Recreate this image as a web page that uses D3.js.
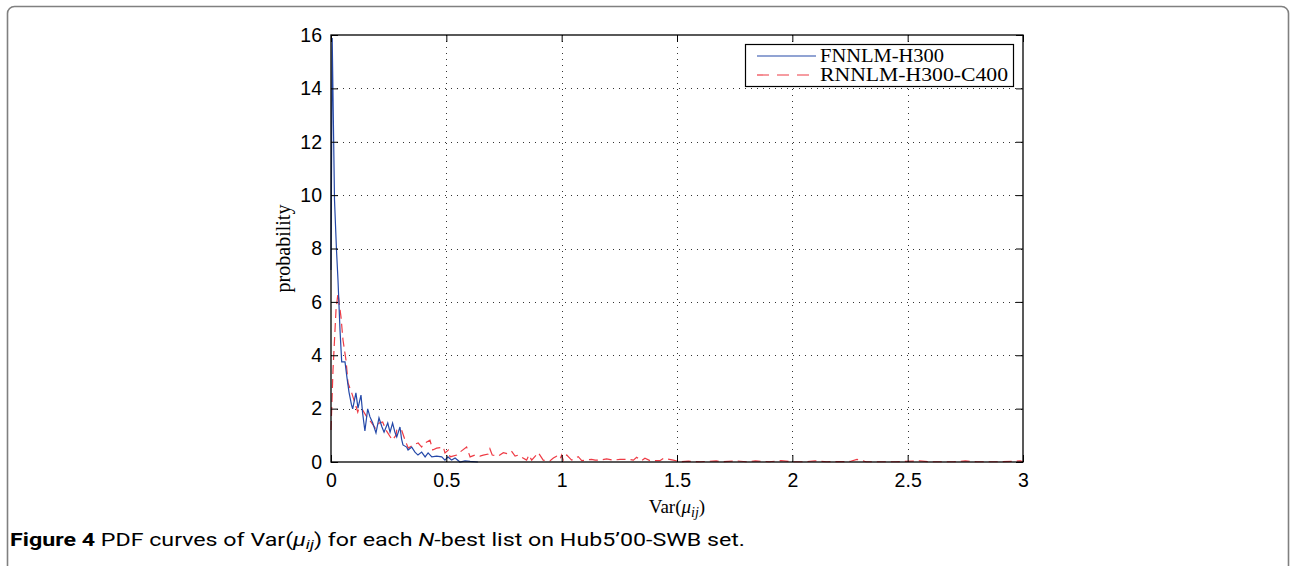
<!DOCTYPE html>
<html>
<head>
<meta charset="utf-8">
<script src="https://cdn.jsdelivr.net/npm/d3@7"></script>
<style>
  body { margin: 0; background: #fff; }
</style>
</head>
<body>
<svg id="chart"></svg>
<script>
// series values: [Var(mu_ij), probability]
var fnnlmPoints = [
  [0, 7.19], [0.0052, 15.89], [0.0152, 9.82], [0.0238, 7.94], [0.0303, 6.82], [0.039, 4.95],
  [0.0464, 3.75], [0.0607, 3.75], [0.0694, 3.15], [0.078, 2.62], [0.0889, 2.14], [0.094, 1.99],
  [0.108, 2.59], [0.117, 2.02], [0.13, 2.51], [0.137, 1.84], [0.147, 1.16], [0.159, 1.99],
  [0.169, 1.69], [0.181, 1.46], [0.195, 1.09], [0.208, 1.65], [0.221, 1.31], [0.23, 1.12],
  [0.246, 1.46], [0.256, 1.12], [0.267, 1.46], [0.277, 1.12], [0.285, 0.94], [0.299, 1.31],
  [0.306, 0.86], [0.312, 0.64], [0.328, 0.56], [0.334, 0.45], [0.35, 0.56], [0.364, 0.37],
  [0.377, 0.26], [0.393, 0.37], [0.408, 0.19], [0.421, 0.34], [0.437, 0.19], [0.458, 0.22],
  [0.48, 0.19], [0.494, 0.07], [0.507, 0.19], [0.523, 0.07], [0.538, 0.15], [0.559, 0],
  [0.581, 0.04], [0.603, 0.02], [0.637, 0]
];
var rnnlmPoints = [
  [0, 1.2], [0.0087, 3.45], [0.0217, 5.69], [0.0303, 6.33], [0.0434, 5.43], [0.052, 4.57],
  [0.065, 3.82], [0.0737, 2.96], [0.0897, 2.59], [0.0997, 2.32], [0.116, 1.87], [0.121, 2.02],
  [0.137, 1.95], [0.155, 1.69], [0.173, 1.5], [0.192, 1.27], [0.209, 1.46], [0.224, 1.5],
  [0.238, 1.2], [0.26, 0.9], [0.267, 0.82], [0.282, 1.01], [0.285, 1.2], [0.306, 1.2],
  [0.321, 0.82], [0.335, 0.52], [0.35, 0.6], [0.364, 0.67], [0.378, 0.71], [0.393, 0.56],
  [0.4, 0.67], [0.429, 0.82], [0.441, 0.45], [0.458, 0.52], [0.487, 0.56], [0.494, 0.34],
  [0.509, 0.45], [0.516, 0.19], [0.545, 0.26], [0.559, 0.37], [0.588, 0.56], [0.603, 0.19],
  [0.624, 0.26], [0.646, 0.22], [0.66, 0.26], [0.682, 0.3], [0.689, 0.49], [0.699, 0.26],
  [0.725, 0.22], [0.747, 0.35], [0.769, 0.3], [0.784, 0.39], [0.798, 0.22], [0.812, 0.26],
  [0.848, 0.07], [0.858, 0.26], [0.87, 0.07], [0.899, 0.35], [0.92, 0.07], [0.949, 0.04],
  [0.964, 0.15], [0.978, 0.22], [0.993, 0.11], [1.0, 0.26], [1.007, 0.07], [1.022, 0.26],
  [1.043, 0.07], [1.072, 0.2], [1.087, 0.05], [1.13, 0.1], [1.145, 0.07], [1.166, 0.07],
  [1.195, 0.12], [1.224, 0.07], [1.253, 0.1], [1.289, 0.1], [1.311, 0.07], [1.325, 0.18],
  [1.347, 0.05], [1.361, 0.14], [1.383, 0.05], [1.426, 0.05], [1.441, 0.14], [1.484, 0.07],
  [1.513, 0.01], [1.55, 0.03], [1.6, 0.01], [1.67, 0.04], [1.7, 0.01], [1.76, 0.04],
  [1.8, 0.01], [1.84, 0.04], [1.9, 0.01], [1.95, 0.05], [2.0, 0.01], [2.05, 0.01],
  [2.1, 0.04], [2.15, 0.01], [2.25, 0.02], [2.28, 0.1], [2.32, 0.01], [2.45, 0.01],
  [2.55, 0.04], [2.6, 0.01], [2.7, 0.01], [2.75, 0.04], [2.8, 0.01], [2.9, 0.01],
  [2.99, 0.04], [3.0, 0]
];
var seriesNames = ["FNNLM-H300", "RNNLM-H300-C400"];
var xTicks = [0, 0.5, 1, 1.5, 2, 2.5, 3];
var yTicks = [0, 2, 4, 6, 8, 10, 12, 14, 16];

var dimensions = {
  width: 1294,
  height: 566,
  margin: { top: 35, bottom: 104, left: 331, right: 271 },
};

var svg = d3
  .select("#chart")
  .attr("width", dimensions.width)
  .attr("height", dimensions.height);

// page frame
svg
  .append("rect")
  .attr("x", 7.5)
  .attr("y", 6.5)
  .attr("width", 1281)
  .attr("height", 620)
  .attr("rx", 7)
  .attr("fill", "none")
  .attr("stroke", "#808080")
  .attr("stroke-width", 1.6);

var x0 = dimensions.margin.left;
var x1 = dimensions.width - dimensions.margin.right;
var y0 = dimensions.height - dimensions.margin.bottom;
var y1 = dimensions.margin.top;

var xScale = d3.scaleLinear().domain([0, 3]).range([x0, x1]);
var yScale = d3.scaleLinear().domain([0, 16]).range([y0, y1]);

// dotted grid
var grid = svg.append("g").attr("stroke", "#333").attr("stroke-width", 1).attr("stroke-dasharray", "1,5");
grid
  .selectAll(".gx")
  .data(xTicks.slice(1, -1))
  .enter()
  .append("line")
  .attr("x1", (d) => Math.round(xScale(d)) + 0.5)
  .attr("x2", (d) => Math.round(xScale(d)) + 0.5)
  .attr("y1", y0)
  .attr("y2", y1);
grid
  .selectAll(".gy")
  .data(yTicks.slice(1, -1))
  .enter()
  .append("line")
  .attr("x1", x0)
  .attr("x2", x1)
  .attr("y1", (d) => Math.round(yScale(d)) + 0.5)
  .attr("y2", (d) => Math.round(yScale(d)) + 0.5);

// curves
var line = d3
  .line()
  .x((d) => xScale(d[0]))
  .y((d) => yScale(d[1]));

svg
  .append("path")
  .datum(rnnlmPoints)
  .attr("d", line)
  .attr("fill", "none")
  .attr("stroke", "#ee3b45")
  .attr("stroke-width", 1.2)
  .attr("stroke-dasharray", "9,5");

svg
  .append("path")
  .datum(fnnlmPoints)
  .attr("d", line)
  .attr("fill", "none")
  .attr("stroke", "#2448a8")
  .attr("stroke-width", 1.2);

// axes, ticks pointing inward
var xAxisgen = d3.axisBottom(xScale).tickValues(xTicks).tickSize(-7).tickPadding(10).tickFormat(d3.format("~g"));
var yAxisgen = d3.axisLeft(yScale).tickValues(yTicks).tickSize(-7).tickPadding(9);

var xAxis = svg.append("g").attr("transform", `translate(0,${y0})`).call(xAxisgen);
var yAxis = svg.append("g").attr("transform", `translate(${x0},0)`).call(yAxisgen);
var topAxis = svg
  .append("g")
  .attr("transform", `translate(0,${y1})`)
  .call(d3.axisTop(xScale).tickValues(xTicks).tickSize(-7).tickFormat(""));
var rightAxis = svg
  .append("g")
  .attr("transform", `translate(${x1},0)`)
  .call(d3.axisRight(yScale).tickValues(yTicks).tickSize(-7).tickFormat(""));

[xAxis, yAxis, topAxis, rightAxis].forEach(function (g) {
  g.attr("font-family", '"Liberation Sans", Arial, sans-serif').attr("font-size", 19.5);
  g.select(".domain").remove();
  g.selectAll(".tick line").attr("stroke", "#000");
  g.selectAll(".tick text").attr("fill", "#000");
});
xAxis.selectAll(".tick text").attr("dy", "0.78em");

svg
  .append("rect")
  .attr("x", x0)
  .attr("y", y1)
  .attr("width", x1 - x0)
  .attr("height", y0 - y1)
  .attr("fill", "none")
  .attr("stroke", "#000")
  .attr("stroke-width", 1.3);

// axis labels
var serif = '"Liberation Serif", "Times New Roman", serif';
var xLabel = svg
  .append("text")
  .attr("x", xScale(1.5))
  .attr("y", 513)
  .attr("text-anchor", "middle")
  .attr("font-family", serif)
  .attr("font-size", 19);
xLabel.append("tspan").text("Var(");
xLabel.append("tspan").attr("font-style", "italic").text("μ");
xLabel.append("tspan").attr("font-style", "italic").attr("font-size", 14).attr("dy", 4).text("ij");
xLabel.append("tspan").attr("dy", -4).text(")");

svg
  .append("text")
  .attr("transform", `translate(290,${(y0 + y1) / 2}) rotate(-90)`)
  .attr("text-anchor", "middle")
  .attr("font-family", serif)
  .attr("font-size", 20)
  .text("probability");

// legend
var legend = svg.append("g");
legend
  .append("rect")
  .attr("x", 745.5)
  .attr("y", 44.5)
  .attr("width", 268)
  .attr("height", 42)
  .attr("fill", "#fff")
  .attr("stroke", "#000")
  .attr("stroke-width", 1.2);
var legendColors = ["#2448a8", "#ee3b45"];
var legendDash = [null, "12,8"];
seriesNames.forEach(function (name, i) {
  var ly = 56 + i * 19;
  legend
    .append("line")
    .attr("x1", 757)
    .attr("x2", 816)
    .attr("y1", ly)
    .attr("y2", ly)
    .attr("stroke", legendColors[i])
    .attr("stroke-width", 1.2)
    .attr("stroke-dasharray", legendDash[i]);
  legend
    .append("text")
    .attr("x", 820)
    .attr("y", ly + 6)
    .attr("font-family", serif)
    .attr("font-size", 18.5)
    .attr("textLength", i === 0 ? 124 : 188)
    .attr("lengthAdjust", "spacingAndGlyphs")
    .text(name);
});

// caption
var caption = svg
  .append("text")
  .attr("x", 10)
  .attr("y", 546)
  .attr("font-family", 'Roboto, "Noto Sans", sans-serif')
  .attr("font-size", 17.5)
  .attr("textLength", 735)
  .attr("lengthAdjust", "spacingAndGlyphs");
caption.append("tspan").attr("font-weight", "bold").text("Figure 4");
caption.append("tspan").text(" PDF curves of Var(");
caption.append("tspan").attr("font-style", "italic").text("μ");
caption.append("tspan").attr("font-style", "italic").attr("font-size", 13).attr("dy", 3).text("ij");
caption.append("tspan").attr("dy", -3).text(") for each ");
caption.append("tspan").attr("font-style", "italic").text("N");
caption.append("tspan").text("-best list on Hub5’00-SWB set.");
</script>
</body>
</html>
